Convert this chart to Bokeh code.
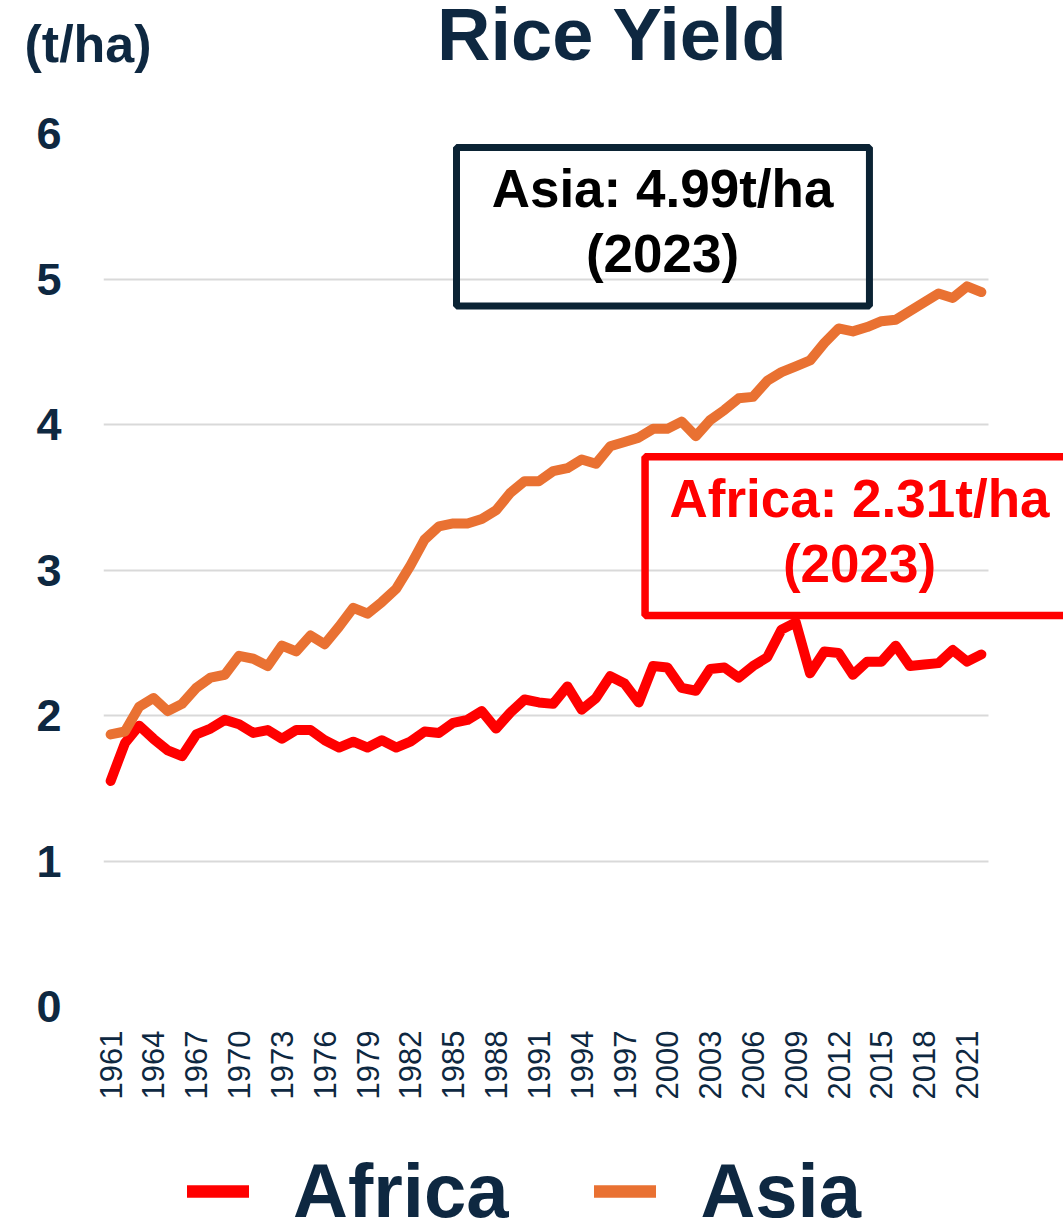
from bokeh.plotting import figure
from bokeh.models import FixedTicker, Label, BoxAnnotation, Legend, LegendItem
from bokeh.layouts import column
from bokeh.embed import file_html
from bokeh.resources import INLINE

years = list(range(1961, 2023))
africa = [1.55, 1.81, 1.93, 1.84, 1.76, 1.72, 1.87, 1.91, 1.97, 1.94,
          1.88, 1.90, 1.84, 1.90, 1.90, 1.83, 1.78, 1.82, 1.78, 1.83,
          1.78, 1.82, 1.89, 1.88, 1.95, 1.97, 2.03, 1.91, 2.02, 2.11,
          2.09, 2.08, 2.20, 2.04, 2.12, 2.27, 2.22, 2.09, 2.34, 2.33,
          2.19, 2.17, 2.32, 2.33, 2.26, 2.34, 2.40, 2.59, 2.64, 2.29,
          2.44, 2.43, 2.28, 2.37, 2.37, 2.48, 2.34, 2.35, 2.36, 2.45,
          2.37, 2.42]
asia = [1.87, 1.89, 2.06, 2.12, 2.03, 2.08, 2.19, 2.26, 2.28, 2.41,
        2.39, 2.34, 2.48, 2.44, 2.55, 2.49, 2.61, 2.74, 2.70, 2.78,
        2.87, 3.03, 3.21, 3.30, 3.32, 3.32, 3.35, 3.41, 3.53, 3.61,
        3.61, 3.68, 3.70, 3.76, 3.73, 3.85, 3.88, 3.91, 3.97, 3.97,
        4.02, 3.92, 4.03, 4.10, 4.18, 4.19, 4.30, 4.36, 4.40, 4.44,
        4.56, 4.66, 4.64, 4.67, 4.71, 4.72, 4.78, 4.84, 4.90, 4.87,
        4.95, 4.91]
tick_years = list(range(1961, 2022, 3))
y_ticks = [0, 1, 2, 3, 4, 5, 6]
series_names = ["Africa", "Asia"]
title_text = "Rice Yield"
unit_text = "(t/ha)"
asia_note = ["Asia: 4.99t/ha", "(2023)"]
africa_note = ["Africa: 2.31t/ha", "(2023)"]

NAVY = "#0E2841"
RED = "#FF0000"
ORANGE = "#E97132"
BOXNAVY = "#0B2334"
FONT = "Liberation Sans"
W = 1063


def bare(h):
    f = figure(width=W, height=h, x_range=(0, 1), y_range=(0, 1),
               x_axis_location=None, y_axis_location=None,
               output_backend="svg", toolbar_location=None,
               min_border=0, min_border_left=0, min_border_right=0,
               min_border_top=0, min_border_bottom=0, frame_align=False)
    f.outline_line_color = None
    f.border_fill_color = "white"
    f.background_fill_color = "white"
    f.xgrid.visible = False
    f.ygrid.visible = False
    return f


# ---------- header: title + unit ----------
header = bare(100)
header.add_layout(Label(x=612, y=66, x_units="screen", y_units="screen", text=title_text,
                        text_align="center", text_baseline="alphabetic",
                        text_font_size="74px", text_font_style="bold",
                        text_color=NAVY, text_font=FONT))
header.add_layout(Label(x=24, y=57, x_units="screen", y_units="screen", text=unit_text,
                        text_align="left", text_baseline="alphabetic",
                        text_font_size="52px", text_font_style="bold",
                        text_color=NAVY, text_font=FONT))

# ---------- main chart ----------
p = figure(width=W, height=1002, output_backend="svg", toolbar_location=None,
           x_range=(1960.5, 2027.755), y_range=(0, 6),
           min_border_left=103, min_border_right=0, min_border_top=33,
           min_border_bottom=94, frame_align=False)
p.outline_line_color = None
p.background_fill_color = "white"
p.border_fill_color = "white"
p.xgrid.grid_line_color = None
p.ygrid.grid_line_color = "#D9D9D9"
p.ygrid.grid_line_width = 2

# keep grid lines inside the category area (white cover right of last year)
p.add_layout(BoxAnnotation(left=2022.5, fill_color="white", fill_alpha=1,
                           line_color=None, level="underlay"))

p.xaxis.ticker = FixedTicker(ticks=tick_years)
p.yaxis.ticker = FixedTicker(ticks=y_ticks)
for ax in (p.xaxis[0], p.yaxis[0]):
    ax.axis_line_color = None
    ax.major_tick_line_color = None
    ax.minor_tick_line_color = None
    ax.major_tick_out = 0
    ax.major_tick_in = 0
    ax.minor_tick_out = 0
    ax.major_label_text_color = NAVY
    ax.major_label_text_font = FONT

p.xaxis.major_label_orientation = 1.5708
p.xaxis.major_label_text_font_size = "31px"
p.xaxis.major_label_standoff = 24
p.yaxis.major_label_text_font_size = "45px"
p.yaxis.major_label_text_font_style = "bold"
p.yaxis.major_label_standoff = 42

p.line(years, africa, line_color=RED, line_width=10, line_cap="round", line_join="round")
p.line(years, asia, line_color=ORANGE, line_width=10, line_cap="round", line_join="round")

p.add_layout(BoxAnnotation(left=1985.23, right=2014.16, top=5.904, bottom=4.814,
                           fill_color=None, fill_alpha=0,
                           line_color=BOXNAVY, line_alpha=1, line_width=7))
p.add_layout(BoxAnnotation(left=1998.44, right=2028.49, top=3.778, bottom=2.688,
                           fill_color=None, fill_alpha=0,
                           line_color=RED, line_alpha=1, line_width=7.5))

for txt, yy in zip(asia_note, [818, 753]):
    p.add_layout(Label(x=559, y=yy, x_units="screen", y_units="screen", text=txt,
                       text_align="center", text_baseline="alphabetic",
                       text_font_size="53px", text_font_style="bold",
                       text_color="black", text_font=FONT))
for txt, yy in zip(africa_note, [508, 443]):
    p.add_layout(Label(x=756, y=yy, x_units="screen", y_units="screen", text=txt,
                       text_align="center", text_baseline="alphabetic",
                       text_font_size="53px", text_font_style="bold",
                       text_color=RED, text_font=FONT))

# ---------- footer: legend ----------
# The series are drawn here outside this panel's (0, 1) ranges, so only their
# legend entries are visible.
footer = bare(117)
lg_af = footer.line(years, africa, line_color=RED, line_width=12.5, line_cap="round")
lg_as = footer.line(years, asia, line_color=ORANGE, line_width=12.5, line_cap="round")
legend = Legend(items=[LegendItem(label=series_names[0], renderers=[lg_af]),
                       LegendItem(label=series_names[1], renderers=[lg_as])],
                orientation="horizontal", location=(187, -15),
                label_text_font_size="76px", label_text_font=FONT,
                label_text_font_style="bold", label_text_color=NAVY,
                glyph_width=62, glyph_height=20, label_standoff=44, spacing=86,
                padding=0, margin=0, border_line_color=None,
                background_fill_alpha=0)
footer.add_layout(legend)

layout = column(header, p, footer, spacing=0)
open("out.html", "w").write(file_html(layout, INLINE))
